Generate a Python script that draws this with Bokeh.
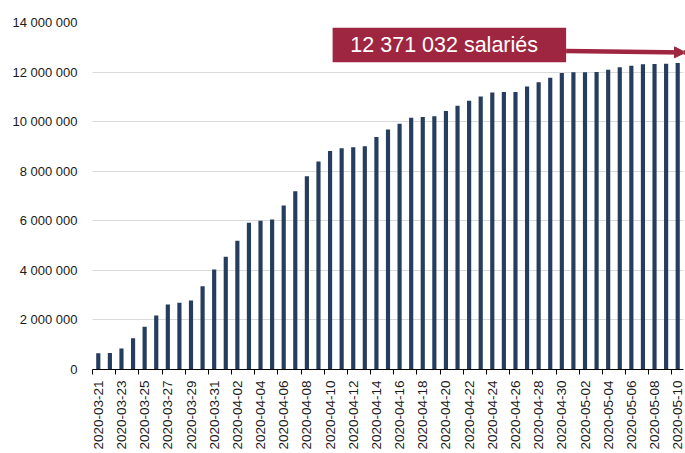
from bokeh.plotting import figure
from bokeh.models import (ColumnDataSource, FixedTicker, BoxAnnotation, Label,
                          Arrow, NormalHead, Range1d)
from bokeh.embed import file_html
from bokeh.resources import INLINE
import math

dates = [
    "2020-03-21", "2020-03-22", "2020-03-23", "2020-03-24", "2020-03-25", "2020-03-26",
    "2020-03-27", "2020-03-28", "2020-03-29", "2020-03-30", "2020-03-31", "2020-04-01",
    "2020-04-02", "2020-04-03", "2020-04-04", "2020-04-05", "2020-04-06", "2020-04-07",
    "2020-04-08", "2020-04-09", "2020-04-10", "2020-04-11", "2020-04-12", "2020-04-13",
    "2020-04-14", "2020-04-15", "2020-04-16", "2020-04-17", "2020-04-18", "2020-04-19",
    "2020-04-20", "2020-04-21", "2020-04-22", "2020-04-23", "2020-04-24", "2020-04-25",
    "2020-04-26", "2020-04-27", "2020-04-28", "2020-04-29", "2020-04-30", "2020-05-01",
    "2020-05-02", "2020-05-03", "2020-05-04", "2020-05-05", "2020-05-06", "2020-05-07",
    "2020-05-08", "2020-05-09", "2020-05-10",
]
salaries = [
    660000, 665000, 850000, 1260000, 1720000, 2180000, 2620000, 2690000, 2780000,
    3360000, 4030000, 4550000, 5190000, 5920000, 6000000, 6050000, 6620000, 7190000,
    7800000, 8390000, 8820000, 8930000, 8970000, 9010000, 9380000, 9680000, 9910000,
    10160000, 10190000, 10220000, 10430000, 10640000, 10840000, 11010000, 11180000,
    11200000, 11200000, 11420000, 11590000, 11770000, 11960000, 11990000, 11990000,
    12000000, 12090000, 12190000, 12260000, 12320000, 12330000, 12340000, 12371032,
]
y_ticks = [0, 2000000, 4000000, 6000000, 8000000, 10000000, 12000000, 14000000]
y_tick_labels = ["0", "2 000 000", "4 000 000", "6 000 000", "8 000 000",
                 "10 000 000", "12 000 000", "14 000 000"]
annotation_text = "12 371 032 salariés"

BAR = "#253d5e"
RED = "#9e2640"
FONT = "Liberation Sans"

idx = list(range(len(dates)))
src = ColumnDataSource(dict(x=idx, top=salaries, date=dates))

p = figure(width=685, height=453, output_backend="svg", toolbar_location=None,
           x_range=Range1d(-0.5, len(dates) - 0.5), y_range=Range1d(0, 14000000),
           min_border_left=92, min_border_right=2, min_border_top=22,
           min_border_bottom=84)
p.outline_line_color = None
p.background_fill_color = "white"

p.vbar(x="x", top="top", width=0.36, bottom=0, source=src,
       fill_color=BAR, line_color=None)

# y axis
p.yaxis.ticker = FixedTicker(ticks=y_ticks)
p.yaxis.major_label_overrides = {t: l for t, l in zip(y_ticks, y_tick_labels)}
p.yaxis.axis_line_color = None
p.yaxis.major_tick_line_color = None
p.yaxis.major_tick_out = 0
p.yaxis.minor_tick_line_color = None
p.yaxis.minor_tick_out = 0
p.yaxis.major_label_standoff = 15
p.yaxis.major_label_text_font = FONT
p.yaxis.major_label_text_font_size = "13px"
p.yaxis.major_label_text_color = "#1a1a1a"

# x axis
label_ticks = idx[::2]
p.xaxis.ticker = FixedTicker(ticks=label_ticks,
                             minor_ticks=[i - 0.5 for i in label_ticks])
p.xaxis.major_label_overrides = {i: dates[i] for i in label_ticks}
p.xaxis.major_label_orientation = math.pi / 2
p.xaxis.major_tick_line_color = None
p.xaxis.major_tick_out = 0
p.xaxis.major_tick_in = 0
p.xaxis.minor_tick_line_color = "black"
p.xaxis.minor_tick_out = 5
p.xaxis.minor_tick_in = 0
p.xaxis.axis_line_color = "black"
p.xaxis.major_label_standoff = 6
p.xaxis.major_label_text_font = FONT
p.xaxis.major_label_text_font_size = "13.5px"
p.xaxis.major_label_text_color = "#1a1a1a"

# grid
p.xgrid.grid_line_color = None
p.ygrid.ticker = FixedTicker(ticks=y_ticks[1:])
p.ygrid.grid_line_color = "#b5b5b5"
p.ygrid.grid_line_dash = "1 1"
p.ygrid.grid_line_width = 1

# annotation
box = BoxAnnotation(left=20.22, right=40.37, top=13786000, bottom=12398000,
                    fill_color=RED, fill_alpha=1.0, line_alpha=0)
p.add_layout(box)
p.add_layout(Arrow(end=NormalHead(size=11, fill_color=RED, line_color=RED),
                   x_start=40.37, y_start=12850000, x_end=50.67, y_end=12790000,
                   line_color=RED, line_width=4.5))
p.add_layout(Label(x=21.75, y=13090000, text=annotation_text, text_color="white",
                   text_font=FONT, text_font_size="21.5px",
                   text_baseline="middle"))

open("out.html", "w").write(file_html(p, INLINE))
